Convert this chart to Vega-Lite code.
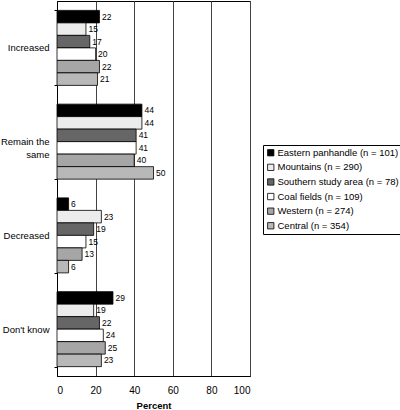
{
  "$schema": "https://vega.github.io/schema/vega-lite/v6.json",
  "autosize": {"type": "none"},
  "padding": {"left": 57, "top": 1, "right": 150, "bottom": 34},
  "width": 193,
  "height": 375,
  "background": "white",
  "config": {
    "font": "Liberation Sans",
    "view": {"stroke": "black", "strokeWidth": 1}
  },
  "data": {
    "values": [
      {"response": "Increased", "region": "Eastern panhandle (n = 101)", "pct": 22},
      {"response": "Increased", "region": "Mountains (n = 290)", "pct": 15},
      {"response": "Increased", "region": "Southern study area (n = 78)", "pct": 17},
      {"response": "Increased", "region": "Coal fields (n = 109)", "pct": 20},
      {"response": "Increased", "region": "Western (n = 274)", "pct": 22},
      {"response": "Increased", "region": "Central (n = 354)", "pct": 21},
      {"response": "Remain the same", "region": "Eastern panhandle (n = 101)", "pct": 44},
      {"response": "Remain the same", "region": "Mountains (n = 290)", "pct": 44},
      {"response": "Remain the same", "region": "Southern study area (n = 78)", "pct": 41},
      {"response": "Remain the same", "region": "Coal fields (n = 109)", "pct": 41},
      {"response": "Remain the same", "region": "Western (n = 274)", "pct": 40},
      {"response": "Remain the same", "region": "Central (n = 354)", "pct": 50},
      {"response": "Decreased", "region": "Eastern panhandle (n = 101)", "pct": 6},
      {"response": "Decreased", "region": "Mountains (n = 290)", "pct": 23},
      {"response": "Decreased", "region": "Southern study area (n = 78)", "pct": 19},
      {"response": "Decreased", "region": "Coal fields (n = 109)", "pct": 15},
      {"response": "Decreased", "region": "Western (n = 274)", "pct": 13},
      {"response": "Decreased", "region": "Central (n = 354)", "pct": 6},
      {"response": "Don't know", "region": "Eastern panhandle (n = 101)", "pct": 29},
      {"response": "Don't know", "region": "Mountains (n = 290)", "pct": 19},
      {"response": "Don't know", "region": "Southern study area (n = 78)", "pct": 22},
      {"response": "Don't know", "region": "Coal fields (n = 109)", "pct": 24},
      {"response": "Don't know", "region": "Western (n = 274)", "pct": 25},
      {"response": "Don't know", "region": "Central (n = 354)", "pct": 23}
    ]
  },
  "encoding": {
    "y": {
      "field": "response",
      "type": "nominal",
      "sort": ["Increased", "Remain the same", "Decreased", "Don't know"],
      "scale": {"paddingInner": 0.2, "paddingOuter": 0.1},
      "axis": {
        "title": null,
        "tickBand": "extent",
        "tickSize": 3,
        "labelFontSize": 9.5,
        "labelColor": "black",
        "labelPadding": 5,
        "domainColor": "black",
        "tickColor": "black",
        "labelExpr": "datum.label == 'Remain the same' ? ['Remain the', 'same'] : datum.label",
        "labelLineHeight": 12.5
      }
    },
    "yOffset": {
      "field": "region",
      "type": "nominal",
      "sort": ["Eastern panhandle (n = 101)", "Mountains (n = 290)", "Southern study area (n = 78)", "Coal fields (n = 109)", "Western (n = 274)", "Central (n = 354)"],
      "scale": {"paddingInner": 0, "paddingOuter": 0}
    },
    "x": {
      "field": "pct",
      "type": "quantitative",
      "scale": {"domain": [0, 100]},
      "axis": {
        "title": "Percent",
        "titleFontWeight": "bold",
        "titleFontSize": 9.5,
        "titleColor": "black",
        "titlePadding": 5,
        "values": [0, 20, 40, 60, 80, 100],
        "ticks": false,
        "labelPadding": 9,
        "labelFontSize": 10,
        "labelColor": "black",
        "domainColor": "black",
        "grid": true,
        "gridColor": "#444",
        "gridWidth": 1
      }
    }
  },
  "layer": [
    {
      "mark": {"type": "bar", "stroke": "black", "strokeWidth": 0.8},
      "encoding": {
        "fill": {
          "field": "region",
          "type": "nominal",
          "sort": ["Eastern panhandle (n = 101)", "Mountains (n = 290)", "Southern study area (n = 78)", "Coal fields (n = 109)", "Western (n = 274)", "Central (n = 354)"],
          "scale": {
            "domain": ["Eastern panhandle (n = 101)", "Mountains (n = 290)", "Southern study area (n = 78)", "Coal fields (n = 109)", "Western (n = 274)", "Central (n = 354)"],
            "range": ["#000000", "#ececec", "#666666", "#ffffff", "#a6a6a6", "#b8b8b8"]
          },
          "legend": {
            "title": null,
            "orient": "none",
            "legendX": 206,
            "legendY": 144,
            "direction": "vertical",
            "symbolType": "square",
            "symbolSize": 40,
            "symbolStrokeColor": "black",
            "symbolStrokeWidth": 0.8,
            "labelFontSize": 9.5,
            "labelColor": "black",
            "labelOffset": 2,
            "rowPadding": 3.6,
            "strokeColor": "black",
            "padding": 3,
            "fillColor": "white",
            "labelLimit": 200
          }
        }
      }
    },
    {
      "mark": {"type": "text", "align": "left", "dx": 2.5, "fontSize": 8.5, "color": "black"},
      "encoding": {
        "text": {"field": "pct", "type": "quantitative"}
      }
    }
  ]
}
